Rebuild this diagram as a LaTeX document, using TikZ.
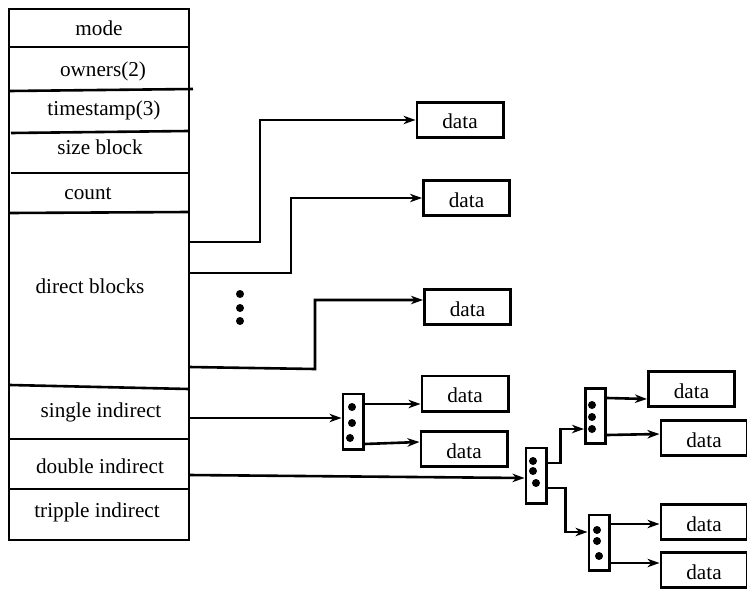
\documentclass[tikz,border=0pt]{standalone}
\usepackage{fontspec}
\setmainfont{Liberation Serif}
\usetikzlibrary{arrows.meta,calc}

\begin{document}
\begin{tikzpicture}[x=0.5pt,y=-0.5pt,line width=1.3pt,
  font=\fontsize{10.6}{12}\selectfont,
  datbox/.style={draw,minimum width=43.2pt,minimum height=17.7pt,inner sep=0pt,text height=9pt,text depth=0pt},
  ibox/.style={draw,minimum width=10.2pt,minimum height=27.7pt,inner sep=0pt},
  ptr/.style={-{Stealth[length=6pt,width=4.2pt,inset=1.8pt]}}]

\useasboundingbox (0,0) rectangle (747,588);

% the inode
\draw (9,9) rectangle (189,540);
\draw (9,47) -- (189,47);
\draw (10,91) -- (193,89);
\draw (11,133) -- (189,131);
\draw (11,173) -- (189,173);
\draw (10,213) -- (189,212);
\draw (10,385) -- (189,389);
\draw (9,439) -- (189,439);
\draw (9,489) -- (189,489);

\node[anchor=base] (mode) at (99,36) {mode};
\node[anchor=base] (owners) at (103,77) {owners(2)};
\node[anchor=base] (tstamp) at (104,116) {timestamp(3)};
\node[anchor=base] (size) at (100,155) {size block};
\node[anchor=base] (count) at (88,199) {count};
\node[anchor=base] (direct) at (90,293) {direct blocks};
\node[anchor=base] (single) at (101,417) {single indirect};
\node[anchor=base] (double) at (100,473) {double indirect};
\node[anchor=base] (triple) at (97,517) {tripple indirect};

\coordinate (pd1) at (189,242);
\coordinate (pd2) at (189,273);
\coordinate (pd3) at (189,367);
\coordinate (psi) at (189,418);
\coordinate (pdi) at (189,475);

\foreach \y in {294,308,321} \fill (240,\y) circle (2pt);

% data blocks
\node[datbox] (d1) at (460,120) {data};
\node[datbox] (d2) at (466.5,198) {data};
\node[datbox] (d3) at (467.5,307) {data};
\node[datbox] (d4) at (465,393.5) {data};
\node[datbox] (d5) at (464,449) {data};
\node[datbox] (d6) at (691.5,389) {data};
\node[datbox] (d7) at (704,438) {data};
\node[datbox] (d8) at (704,522) {data};
\node[datbox] (d9) at (704,570) {data};

% indirect blocks
\node[ibox] (ib1) at (353,421.5) {};
\node[ibox] (ib2) at (536,475.5) {};
\node[ibox] (ib3) at (595.5,416) {};
\node[ibox] (ib4) at (599,542.5) {};

\foreach \dx/\dy in {-1/-14.5,-1/1.5,-3/16.5} \fill ($(ib1)+(\dx,\dy)$) circle (2pt);
\foreach \dx/\dy in {-3/-14.5,-3/-4.5,0/7.5} \fill ($(ib2)+(\dx,\dy)$) circle (2pt);
\foreach \dx/\dy in {-3.5/-11,-3.5/1,-3.5/13} \fill ($(ib3)+(\dx,\dy)$) circle (2pt);
\foreach \dx/\dy in {-2/-12.5,-2/-1.5,0/13.5} \fill ($(ib4)+(\dx,\dy)$) circle (2pt);

% pointers
\draw[ptr] (pd1) -- ++(71,0) |- (d1);
\draw[ptr] (pd2) -- ++(102,0) |- (d2);
\draw[ptr] (pd3) -- ++(126,2) |- ([yshift=3.5pt]d3.west);
\draw[ptr] (psi) -- (psi -| ib1.west);
\draw[ptr] (ib1.east |- 0,404) -- (d4.west |- 0,404);
\draw[ptr] (ib1.east |- 0,444) -- (d5.west |- 0,442);
\draw[ptr] (pdi) -- (ib2.west |- 0,478);
\draw[ptr] (ib2.east |- 0,463) -- ++(13,0) |- (ib3.west |- 0,429);
\draw[ptr] (ib2.east |- 0,488) -- ++(18,0) |- (ib4.west |- 0,532);
\draw[ptr] (ib3.east |- 0,398) -- (d6.west |- 0,399);
\draw[ptr] (ib3.east |- 0,435) -- (d7.west |- 0,434);
\draw[ptr] (ib4.east |- 0,524) -- (d8.west |- 0,524);
\draw[ptr] (ib4.east |- 0,563) -- (d9.west |- 0,563);

\end{tikzpicture}
\end{document}
